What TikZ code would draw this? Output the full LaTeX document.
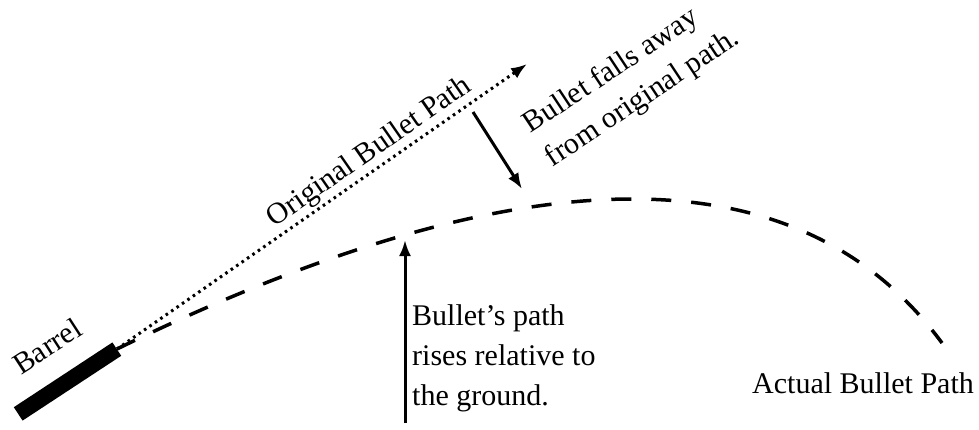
\documentclass[tikz,border=0pt]{standalone}
\usepackage{fontspec}
\setmainfont{Liberation Serif}
\usetikzlibrary{arrows.meta}
\begin{document}
\begin{tikzpicture}[x=1pt, y=-1pt,
		every node/.style={font=\fontsize{30}{40}\selectfont, inner sep=0pt},
		canon/.style={fill=black, minimum width=118pt, minimum height=16pt, rotate=33.3},
		flecha/.style={line width=3pt, -{Latex[length=16pt, width=12pt]}},
		original/.style={line width=3pt, dash pattern=on 2.6pt off 4pt, -{Latex[length=16pt, width=12pt]}},
		real/.style={line width=3.5pt, dash pattern=on 20pt off 20pt},
		texto/.style={align=left}]
	\useasboundingbox (0,0) rectangle (979,429);
	\node[canon] (canon) at (67.5,381.5) {};
	\node[rotate=33] (barril) at (47,346) {Barrel};
	\coordinate (punta) at (527,64);
	\coordinate (fin) at (942,343);
	\draw[original] (canon.east) -- (punta) node[pos=0.64, sloped, above=2pt] (rotulo) {Original Bullet Path};
	\draw[real] (canon.east) .. controls (525,150) and (800,150) .. (fin);
	% flechas
	\coordinate (caeA) at (473,112);
	\coordinate (caeB) at (522,189);
	\draw[flecha] (caeA) -- (caeB);
	\coordinate (subeA) at (405,423);
	\coordinate (subeB) at (405,240);
	\draw[flecha] (subeA) -- (subeB);
	% textos
	\node[texto, rotate=33.5] (cae) at (632,82) {Bullet falls away\\from original path.};
	\node[texto, anchor=north west] (sube) at (412,304) {Bullet's path\\rises relative to\\the ground.};
	\node (real) at (863,383) {Actual Bullet Path};
\end{tikzpicture}
\end{document}
